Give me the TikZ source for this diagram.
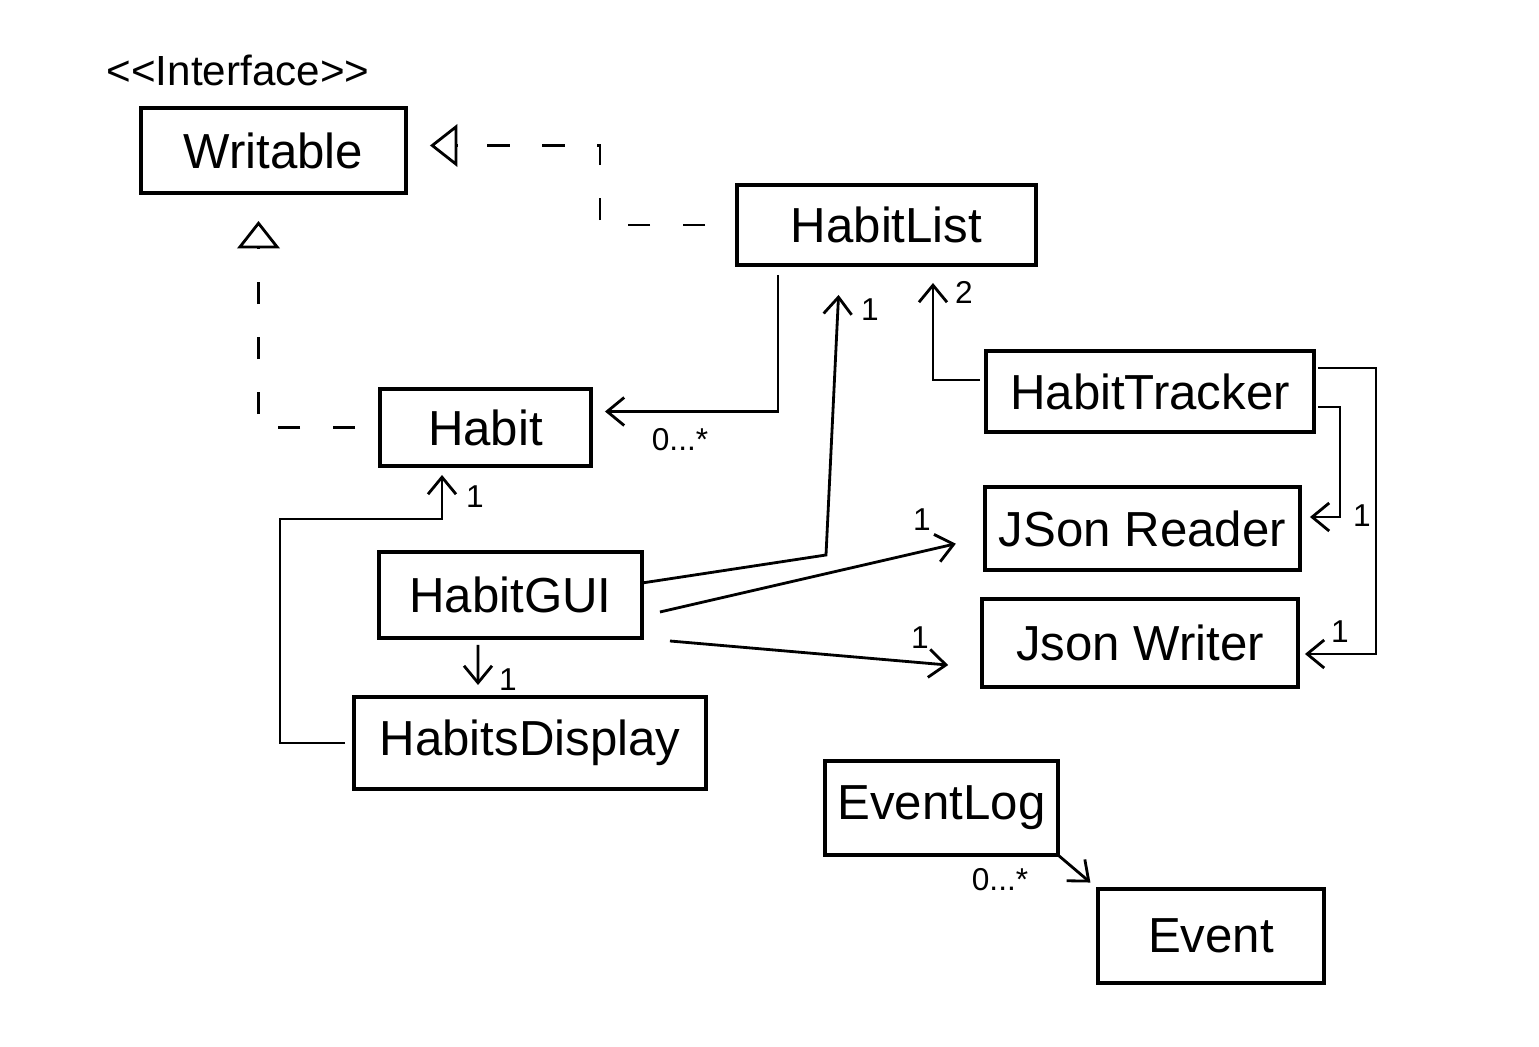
\documentclass[tikz,border=0pt]{standalone}
\usepackage{fontspec}
\setmainfont{Liberation Sans}
\usetikzlibrary{arrows.meta,calc}
\begin{document}
\begin{tikzpicture}[x=0.02cm,y=-0.02cm,
  box/.style={draw, line width=1.8pt, inner sep=0pt, outer sep=0pt, font=\fontsize{28}{30}\selectfont},
  arr/.style={line width=1.6pt, -{Straight Barb[length=0.34cm,width=0.56cm,line width=1.6pt]}},
  real/.style={line width=1.6pt, dash pattern=on 0.45cm off 0.65cm},
  tri/.style={line width=1.6pt, -{Triangle[fill=white,length=0.55cm,width=0.85cm,line width=1.6pt]}},
  mult/.style={font=\fontsize{18}{20}\selectfont, inner sep=1pt}]
\useasboundingbox (0,0) rectangle (1539,1047);
% nodes
\node[mult, font=\fontsize{24}{26}\selectfont] (iface) at (238,70) {<{}<Interface>{}>};
\node[box, minimum width=5.3cm, minimum height=1.7cm] (writable) at (273.5,150.5) {Writable};
\node[box, minimum width=5.98cm, minimum height=1.6cm] (habitlist) at (886.5,225) {HabitList};
\node[box, minimum width=4.22cm, minimum height=1.54cm] (habit) at (485.5,427.5) {Habit};
\node[box, minimum width=6.56cm, minimum height=1.62cm] (tracker) at (1150,391.5) {HabitTracker};
\node[box, minimum width=6.3cm, minimum height=1.66cm] (reader) at (1142.5,528.5) {JSon Reader};
\node[box, minimum width=5.26cm, minimum height=1.72cm] (gui) at (510.5,595) {HabitGUI};
\node[box, minimum width=6.32cm, minimum height=1.76cm] (writer) at (1140,643) {Json Writer};
\node[box, minimum width=7.04cm, minimum height=1.84cm] (display) at (530,743) {HabitsDisplay};
\node[box, minimum width=4.66cm, minimum height=1.88cm] (eventlog) at (941.5,808) {EventLog};
\node[box, minimum width=4.52cm, minimum height=1.88cm] (event) at (1211,936) {Event};
% realizations
\coordinate (r1a) at ([yshift=0.1cm,xshift=1.03cm]writable.east);
\draw[real, shorten <=0.64cm, shorten >=0.45cm] (habitlist.west) -- ++(-137,0) |- (r1a);
\draw[tri] (r1a) -- ([yshift=0.1cm,xshift=0.48cm]writable.east);
\coordinate (r2a) at ([xshift=-0.3cm,yshift=-1.11cm]writable.south);
\draw[real, shorten <=0.5cm, shorten >=0.45cm] (habit.west) -| (r2a);
\draw[tri] (r2a) -- ([xshift=-0.3cm,yshift=-0.56cm]writable.south);
% associations
\draw[arr, shorten <=0.2cm, shorten >=0.28cm] ([xshift=0.82cm]habitlist.south west) |- ([yshift=0.32cm]habit.east);
\node[mult] (m1) at (680,440) {0...*};
\coordinate (bend1) at (826,555);
\draw[arr, shorten >=0.6cm] ([yshift=0.24cm]gui.east) -- (bend1) -- ([xshift=-0.93cm]habitlist.south);
\node[mult] (m2) at (870,310) {1};
\draw[arr, shorten <=0.12cm, shorten >=0.36cm] ([yshift=0.23cm]tracker.west) -| ([xshift=0.93cm]habitlist.south);
\node[mult] (m3) at (964,292) {2};
\draw[arr, shorten <=0.08cm, shorten >=0.2cm] ([yshift=-0.31cm]tracker.east) -- ++(26,0) |- ([yshift=0.23cm]reader.east);
\node[mult] (m4) at (1362,516) {1};
\draw[arr, shorten <=0.08cm, shorten >=0.14cm] ([yshift=0.47cm]tracker.east) -- ++(62,0) |- ([yshift=-0.22cm]writer.east);
\node[mult] (m5) at (1340,632) {1};
\draw[arr, shorten >=0.6cm] ([xshift=0.36cm,yshift=-0.34cm]gui.east) -- ([yshift=-0.17cm]reader.west);
\node[mult] (m6) at (922,520) {1};
\draw[arr, shorten >=0.68cm] ([xshift=0.56cm,yshift=-0.92cm]gui.east) -- ([yshift=-0.5cm]writer.west);
\node[mult] (m7) at (920,638) {1};
\draw[arr, shorten <=0.14cm, shorten >=0.24cm] ([xshift=-0.65cm]gui.south) -- ([xshift=-1.04cm]display.north);
\node[mult] (m8) at (508,680) {1};
\draw[arr, shorten <=0.18cm, shorten >=0.18cm] (display.west) -- ++(-74,0) -- ++(0,-224) -| ([xshift=-0.87cm]habit.south);
\node[mult] (m9) at (475,497) {1};
\draw[arr, shorten >=0.2cm] (eventlog.south east) -- (event.north west);
\node[mult] (m10) at (1000,880) {0...*};
\end{tikzpicture}
\end{document}
